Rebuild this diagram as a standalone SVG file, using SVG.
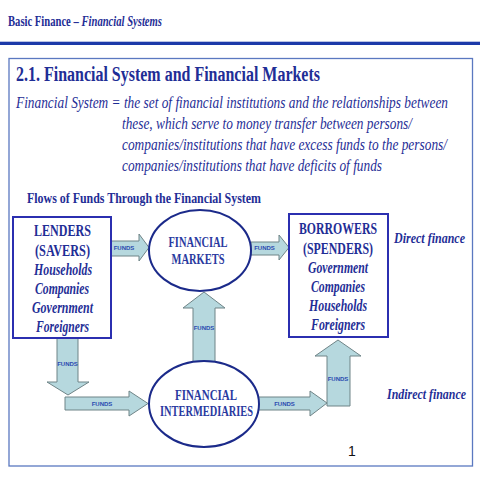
<svg xmlns="http://www.w3.org/2000/svg" width="480" height="480" viewBox="0 0 480 480">
<style>
.t{fill:#1f2e96;font-family:"Liberation Serif","Times New Roman",serif;}
.b{font-weight:bold;}
.i{font-style:italic;}
.box{fill:#fff;stroke:#2b2fb0;stroke-width:2;}
.ell{fill:#fff;stroke:#1b2a8a;stroke-width:2;}
.arr{fill:#b6d8de;stroke:#6f8487;stroke-width:1;}
.f{font-family:"Liberation Sans",Arial,sans-serif;font-size:6px;font-weight:bold;fill:#2a4ab0;text-anchor:middle;}
.n{font-size:12.56px;font-weight:bold;text-anchor:middle;}
.e{font-size:11px;font-weight:bold;text-anchor:middle;fill:#2a3aa0;}
.d{font-size:13.35px;font-style:italic;}
</style>
<rect width="480" height="480" fill="#fff"/>
<g id="header">
<text class="t b" transform="translate(8,26) scale(1,1.273)" font-size="11" textLength="154" lengthAdjust="spacingAndGlyphs">Basic Finance – <tspan font-style="italic">Financial Systems</tspan></text>
<rect x="0" y="41.7" width="480" height="3.3" fill="#1c3aa9"/>
</g>
<rect id="frame" x="9" y="58.5" width="463.5" height="407.5" fill="none" stroke="#5a78c0" stroke-width="1.3"/>
<g id="title">
<text class="t b" transform="translate(16,81) scale(1,1.273)" font-size="15.7" textLength="304" lengthAdjust="spacingAndGlyphs">2.1. Financial System and Financial Markets</text>
<text class="t d" transform="translate(16,107.5) scale(1,1.273)" textLength="432" lengthAdjust="spacingAndGlyphs">Financial System = the set of financial institutions and the relationships between</text>
<text class="t d" transform="translate(122,128.5) scale(1,1.273)" textLength="290" lengthAdjust="spacingAndGlyphs">these, which serve to money transfer between persons/</text>
<text class="t d" transform="translate(122,150) scale(1,1.273)" textLength="325" lengthAdjust="spacingAndGlyphs">companies/institutions that have excess funds to the persons/</text>
<text class="t d" transform="translate(122,170.5) scale(1,1.273)" textLength="260" lengthAdjust="spacingAndGlyphs">companies/institutions that have deficits of funds</text>
<text class="t b" transform="translate(27,203) scale(1,1.273)" font-size="11" textLength="234" lengthAdjust="spacingAndGlyphs">Flows of Funds Through the Financial System</text>
</g>
<g id="connectors">
<polygon class="arr" points="111,241 139,241 139,234 149,247.5 139,261 139,256 111,256"/>
<text class="f" x="124" y="250">FUNDS</text>
<polygon class="arr" points="251,242 279,242 279,235 289,247.5 279,260 279,255 251,255"/>
<text class="f" x="264.5" y="250">FUNDS</text>
<polygon class="arr" points="193,362 193,308 183,308 204,292 225,308 215,308 215,362"/>
<text class="f" x="204" y="330">FUNDS</text>
<polygon class="arr" points="65,397 129,397 129,391 148,403.5 129,416 129,410 65,410"/>
<text class="f" x="102" y="406">FUNDS</text>
<polygon class="arr" points="57,338 78,338 78,382 89,382 68,395 47,382 57,382"/>
<text class="f" x="67.5" y="366">FUNDS</text>
<polygon class="arr" points="256,397 310,397 310,391 327,403 310,416 310,410 256,410"/>
<text class="f" x="284.5" y="406">FUNDS</text>
<polygon class="arr" points="327,406 327,356 315,356 338,340 361,356 350,356 350,406"/>
<text class="f" x="338" y="381">FUNDS</text>
</g>
<g id="lenders">
<rect class="box" x="13" y="217" width="98" height="121"/>
<text class="t n" transform="translate(62.5,236) scale(1,1.273)" textLength="57" lengthAdjust="spacingAndGlyphs">LENDERS</text>
<text class="t n" transform="translate(62.5,256) scale(1,1.273)" textLength="55" lengthAdjust="spacingAndGlyphs">(SAVERS)</text>
<text class="t n i" transform="translate(63,275) scale(1,1.273)" textLength="58" lengthAdjust="spacingAndGlyphs">Households</text>
<text class="t n i" transform="translate(62,294) scale(1,1.273)" textLength="54" lengthAdjust="spacingAndGlyphs">Companies</text>
<text class="t n i" transform="translate(62.5,313) scale(1,1.273)" textLength="61" lengthAdjust="spacingAndGlyphs">Government</text>
<text class="t n i" transform="translate(62.5,332) scale(1,1.273)" textLength="53" lengthAdjust="spacingAndGlyphs">Foreigners</text>
</g>
<g id="markets">
<ellipse class="ell" cx="200" cy="250.5" rx="51" ry="40.5"/>
<text class="t e" transform="translate(198,247) scale(1,1.273)" textLength="59" lengthAdjust="spacingAndGlyphs">FINANCIAL</text>
<text class="t e" transform="translate(198,264) scale(1,1.273)" textLength="53" lengthAdjust="spacingAndGlyphs">MARKETS</text>
</g>
<g id="borrowers">
<rect class="box" x="289" y="214" width="99" height="123"/>
<text class="t n" transform="translate(338,234) scale(1,1.273)" textLength="78" lengthAdjust="spacingAndGlyphs">BORROWERS</text>
<text class="t n" transform="translate(338,254) scale(1,1.273)" textLength="70" lengthAdjust="spacingAndGlyphs">(SPENDERS)</text>
<text class="t n i" transform="translate(338,273) scale(1,1.273)" textLength="60" lengthAdjust="spacingAndGlyphs">Government</text>
<text class="t n i" transform="translate(338,292) scale(1,1.273)" textLength="54" lengthAdjust="spacingAndGlyphs">Companies</text>
<text class="t n i" transform="translate(338,311) scale(1,1.273)" textLength="58" lengthAdjust="spacingAndGlyphs">Households</text>
<text class="t n i" transform="translate(338,330) scale(1,1.273)" textLength="54" lengthAdjust="spacingAndGlyphs">Foreigners</text>
</g>
<g id="intermediaries">
<ellipse class="ell" cx="204" cy="404" rx="55" ry="43"/>
<text class="t e" transform="translate(206,400) scale(1,1.273)" textLength="62" lengthAdjust="spacingAndGlyphs">FINANCIAL</text>
<text class="t e" transform="translate(206.5,416) scale(1,1.273)" textLength="93" lengthAdjust="spacingAndGlyphs">INTERMEDIARIES</text>
</g>
<g id="labels">
<text class="t b i" transform="translate(394,243) scale(1,1.273)" font-size="11.8" textLength="71" lengthAdjust="spacingAndGlyphs">Direct finance</text>
<text class="t b i" transform="translate(387,399) scale(1,1.273)" font-size="11.8" textLength="79" lengthAdjust="spacingAndGlyphs">Indirect finance</text>
<text x="352" y="456" font-family="'Liberation Sans', Arial, sans-serif" font-size="14" fill="#111" text-anchor="middle">1</text>
</g>
</svg>
